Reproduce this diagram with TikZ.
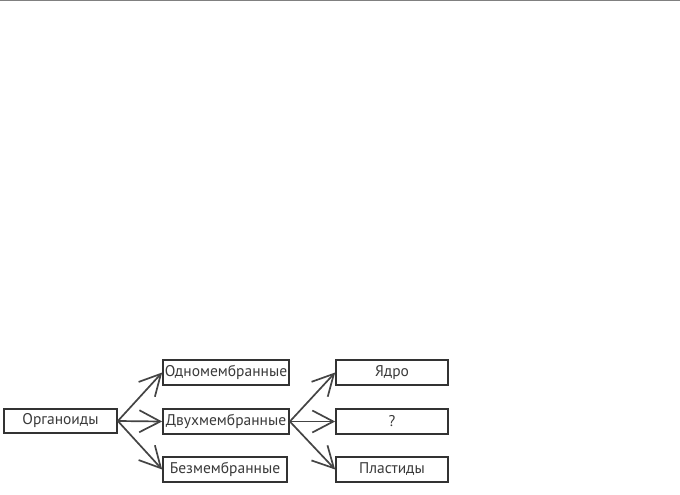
\documentclass[tikz,border=0pt]{standalone}
\usepackage{fontspec}
\setmainfont{PT Sans}
\usetikzlibrary{arrows.meta}
\definecolor{boxc}{HTML}{333333}
\definecolor{arrc}{HTML}{444444}
\definecolor{txtc}{HTML}{3a3a3a}
\begin{document}
\begin{tikzpicture}[x=1pt,y=-1pt,
  box/.style={draw=boxc, line width=1.7pt, inner sep=0pt, minimum height=25pt, text=txtc, font=\fontsize{15.5}{16}\selectfont, anchor=center},
  conn/.style={draw=arrc, line width=1.7pt, -{Straight Barb[length=21pt,width=22pt,line width=1.7pt]}}]
\useasboundingbox (0,0) rectangle (680,495);
\draw[draw=gray, line width=1.2pt] (0,0.6) -- (680,0.6);
\node[box, minimum width=113pt, minimum height=24pt] (org) at (60.5,421) {Органоиды};
\node[box, minimum width=126pt] (one) at (226,372.5) {Одномембранные};
\node[box, minimum width=126pt] (two) at (226,421.5) {Двухмембранные};
\node[box, minimum width=124pt] (bez) at (225,469.5) {Безмембранные};
\node[box, minimum width=112pt] (yad) at (392,372.5) {Ядро};
\node[box, minimum width=112pt] (q) at (392,421.5) {?};
\node[box, minimum width=112pt] (pl) at (392,469.5) {Пластиды};
\draw[conn] (org.east) -- (one.west);
\draw[conn] (org.east) -- (two.west);
\draw[conn] (org.east) -- (bez.west);
\draw[conn] (two.east) -- (yad.west);
\draw[conn] (two.east) -- (q.west);
\draw[conn] (two.east) -- (pl.west);
\end{tikzpicture}
\end{document}
